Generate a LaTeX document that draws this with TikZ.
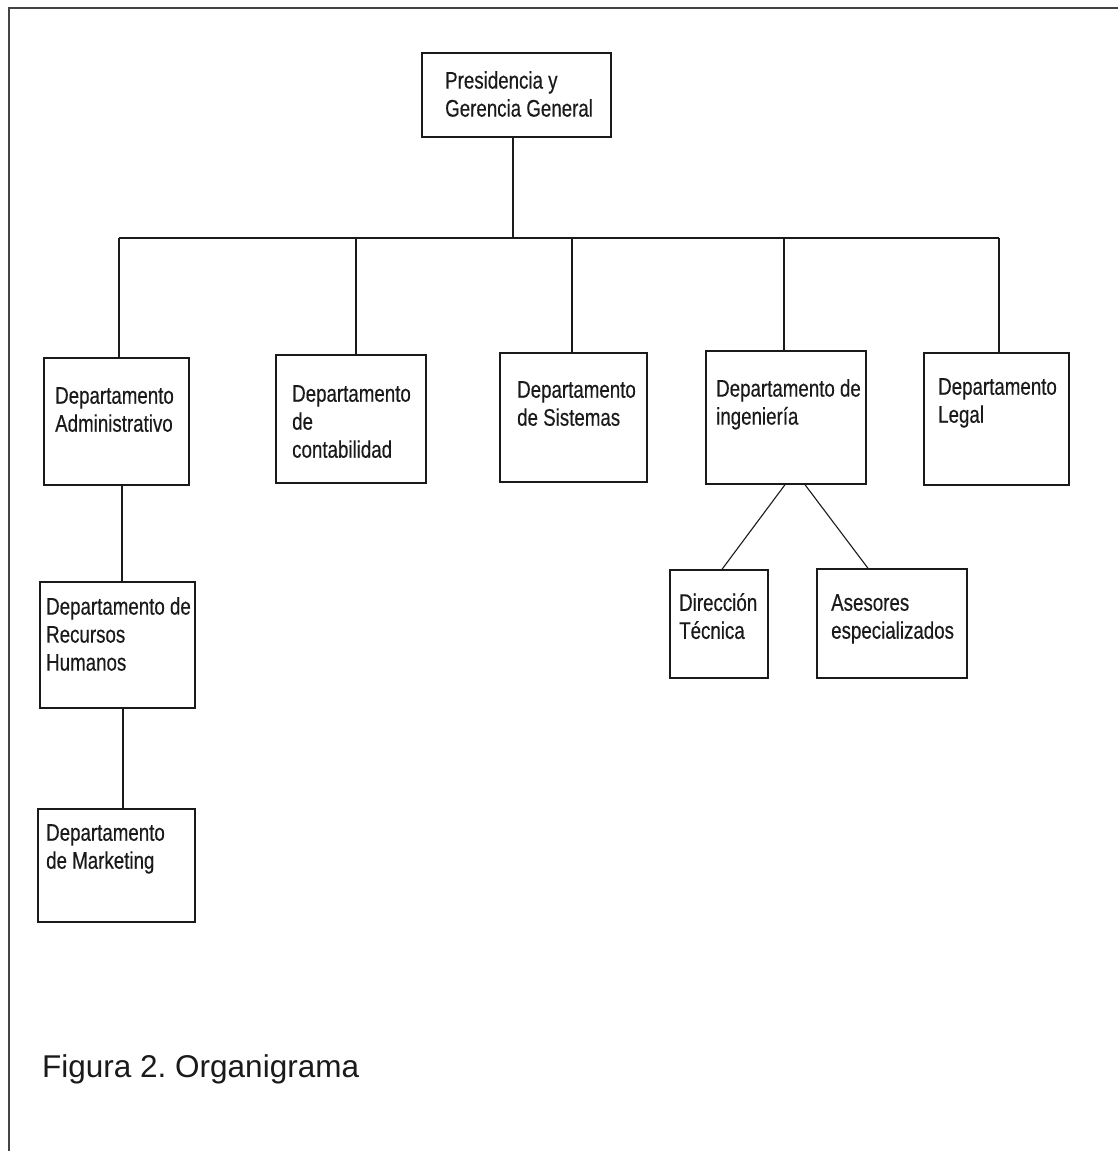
\documentclass[tikz,border=0pt]{standalone}
\usepackage{fontspec}
\newfontfamily\narrowfont[FakeStretch=0.78,FakeBold=0.35]{Liberation Sans}
\newfontfamily\capfont{Liberation Sans}
\definecolor{ink}{HTML}{1A1A1A}
\definecolor{framec}{HTML}{444444}
\frenchspacing
\begin{document}
\begin{tikzpicture}[x=1pt,y=-1pt,
  box/.style={draw=ink,line width=1.4pt,rectangle,inner sep=0pt,fill=none},
  lbl/.style={anchor=north west,inner sep=0pt,align=left,text=ink,
    font=\narrowfont\fontsize{24}{28}\selectfont},
  link/.style={draw=ink,line width=1.1pt}]
\useasboundingbox (0,0) rectangle (1118,1151);
\fill[white] (0,0) rectangle (1118,1151);
% frame
\draw[framec,line width=2pt] (1118,8) -- (8.5,8) -- (8.5,1151);
% boxes
\node[box,minimum width=189pt,minimum height=84pt] (pres) at (516.5,95) {};
\node[box,minimum width=145pt,minimum height=127pt] (adm) at (116.5,421.5) {};
\node[box,minimum width=150pt,minimum height=128pt] (con) at (351,419) {};
\node[box,minimum width=147pt,minimum height=129pt] (sis) at (573.5,417.5) {};
\node[box,minimum width=160pt,minimum height=133pt] (ing) at (786,417.5) {};
\node[box,minimum width=145pt,minimum height=132pt] (leg) at (996.5,419) {};
\node[box,minimum width=155pt,minimum height=126pt] (rh) at (117.5,645) {};
\node[box,minimum width=157pt,minimum height=113pt] (mk) at (116.5,865.5) {};
\node[box,minimum width=98pt,minimum height=108pt] (dir) at (719,624) {};
\node[box,minimum width=150pt,minimum height=109pt] (ase) at (892,623.5) {};
% texts
\node[lbl] (tpres) at (445,71) {Presidencia y\\Gerencia General};
\node[lbl] (tadm) at (55,387) {Departamento\\Administrativo};
\node[lbl] (tcon) at (292,385) {Departamento\\de\\contabilidad};
\node[lbl] (tsis) at (517,381) {Departamento\\de Sistemas};
\node[lbl] (ting) at (716,379) {Departamento de\\ingeniería};
\node[lbl] (tleg) at (938,378) {Departamento\\Legal};
\node[lbl] (trh) at (46,597) {Departamento de\\Recursos\\Humanos};
\node[lbl] (tmk) at (46,824) {Departamento\\de Marketing};
\node[lbl] (tdir) at (679,593) {Dirección\\Técnica};
\node[lbl] (tase) at (831,594) {Asesores\\especializados};
% bus
\coordinate (busL) at (119,238);
\coordinate (busR) at (999,238);
\draw[link] (busL) -- (busR);
\draw[link] ([xshift=-3.5pt]pres.south) -- ([xshift=-3.5pt]pres.south |- busL);
\draw[link] ([xshift=2.5pt]adm.north) -- ([xshift=2.5pt]adm.north |- busL);
\draw[link] ([xshift=5pt]con.north) -- ([xshift=5pt]con.north |- busL);
\draw[link] ([xshift=-1.5pt]sis.north) -- ([xshift=-1.5pt]sis.north |- busL);
\draw[link] ([xshift=-2pt]ing.north) -- ([xshift=-2pt]ing.north |- busL);
\draw[link] ([xshift=2.5pt]leg.north) -- ([xshift=2.5pt]leg.north |- busL);
% sub links
\draw[link] ([xshift=5.5pt]adm.south) -- ([xshift=5.5pt]adm.south |- rh.north);
\draw[link] ([xshift=5.5pt]rh.south) -- ([xshift=5.5pt]rh.south |- mk.north);
\draw[link] ([xshift=-1pt]ing.south) -- ([xshift=3pt]dir.north);
\draw[link] ([xshift=19pt]ing.south) -- ([xshift=-24pt]ase.north);
% caption
\node[anchor=base west,inner sep=0pt,text=ink,font=\capfont\fontsize{31.5}{37}\selectfont] (cap) at (42,1077) {Figura 2. Organigrama};
\end{tikzpicture}
\end{document}
